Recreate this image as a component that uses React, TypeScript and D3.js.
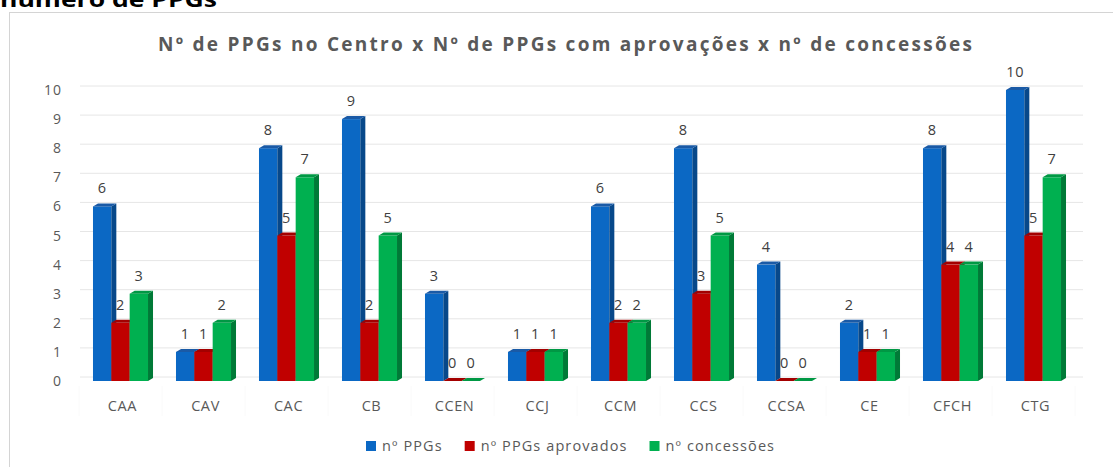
import React, { useEffect, useRef } from 'react';
import * as d3 from 'd3';

const categories = ['CAA', 'CAV', 'CAC', 'CB', 'CCEN', 'CCJ', 'CCM', 'CCS', 'CCSA', 'CE', 'CFCH', 'CTG'];
const ppgs = [6, 1, 8, 9, 3, 1, 6, 8, 4, 2, 8, 10];
const aprovados = [2, 1, 5, 2, 0, 1, 2, 3, 0, 1, 4, 5];
const concessoes = [3, 2, 7, 5, 0, 1, 2, 5, 0, 1, 4, 7];
const seriesNames = ['nº PPGs', 'nº PPGs aprovados', 'nº concessões'];
const yTicks = [0, 1, 2, 3, 4, 5, 6, 7, 8, 9, 10];

const colors = [
  { front: '#0b68c4', side: '#07488a', top: '#1a5aa6' },
  { front: '#c00000', side: '#870000', top: '#a30000' },
  { front: '#00b050', side: '#007a37', top: '#009844' },
];

const FONT = '"Open Sans", "Noto Sans", sans-serif';

const App = () => {
  const ref = useRef<SVGSVGElement>(null);

  useEffect(() => {
    const svg = d3.select(ref.current);
    svg.selectAll('*').remove();
    const width = 1113;
    const height = 467;
    svg.attr('width', width).attr('height', height);

    svg.append('rect').attr('width', width).attr('height', height).attr('fill', '#fff');

    // heading above the chart, clipped by the top of the picture
    svg.append('text')
      .attr('x', 0).attr('y', 7)
      .attr('font-family', FONT).attr('font-weight', 700).attr('font-size', 22)
      .attr('textLength', 217).attr('lengthAdjust', 'spacingAndGlyphs')
      .attr('fill', '#000')
      .text('número de PPGs');

    // chart frame
    svg.append('rect')
      .attr('x', 9.5).attr('y', 12.5).attr('width', 1200).attr('height', 500)
      .attr('fill', '#fff').attr('stroke', '#d4d4d4');

    svg.append('text')
      .attr('x', 565).attr('y', 51)
      .attr('text-anchor', 'middle')
      .attr('font-family', FONT).attr('font-weight', 700).attr('font-size', 19)
      .attr('textLength', 814).attr('lengthAdjust', 'spacing')
      .attr('fill', '#595959')
      .text('Nº de PPGs no Centro x Nº de PPGs com aprovações x nº de concessões');

    const values = [ppgs, aprovados, concessoes];
    const dx = 5;
    const dy = 3;

    const x0 = d3.scaleBand().domain(categories).range([79, 1075]).paddingInner(0.337).paddingOuter(0.1685);
    const x1 = d3.scaleBand().domain(['0', '1', '2']).range([0, x0.bandwidth()]);
    const y = d3.scaleLinear().domain([0, 10]).range([381, 90]);

    // gridlines on the back wall
    svg.append('g').selectAll('line')
      .data(yTicks)
      .enter().append('line')
      .attr('x1', 80).attr('x2', 1083)
      .attr('y1', d => y(d) - 4).attr('y2', d => y(d) - 4)
      .attr('stroke', '#e6e6e6').attr('stroke-width', 1);

    svg.append('g').selectAll('text')
      .data(yTicks)
      .enter().append('text')
      .attr('x', 62).attr('y', d => y(d) + 5)
      .attr('text-anchor', 'end')
      .attr('font-family', FONT).attr('font-size', 14).attr('letter-spacing', 1)
      .attr('fill', '#595959')
      .text(d => d);

    // faint separators under the axis
    const seps = categories.map(c => (x0(c) as number) - (x0.step() - x0.bandwidth()) / 2).concat([1075]);
    svg.append('g').selectAll('line')
      .data(seps)
      .enter().append('line')
      .attr('x1', d => d).attr('x2', d => d)
      .attr('y1', 386).attr('y2', 416)
      .attr('stroke', '#fafafa');

    svg.append('g').selectAll('text')
      .data(categories)
      .enter().append('text')
      .attr('x', d => (x0(d) as number) + x0.bandwidth() / 2 + 2)
      .attr('y', 411)
      .attr('text-anchor', 'middle')
      .attr('font-family', FONT).attr('font-size', 14.5).attr('letter-spacing', 0.6)
      .attr('fill', '#595959')
      .text(d => d);

    // 3D bars
    const bars = svg.append('g');
    const w = x1.bandwidth();
    categories.forEach((c, i) => {
      values.forEach((vals, s) => {
        const bx = (x0(c) as number) + (x1(String(s)) as number);
        const by = y(vals[i]);
        const b0 = y(0);
        const col = colors[s];
        bars.append('rect')
          .attr('x', bx).attr('y', by).attr('width', w).attr('height', b0 - by)
          .attr('fill', col.front);
        bars.append('path')
          .attr('d', `M${bx + w},${by}L${bx + w + dx},${by - dy}L${bx + w + dx},${b0 - dy}L${bx + w},${b0}Z`)
          .attr('fill', col.side);
        bars.append('path')
          .attr('d', `M${bx},${by}L${bx + dx},${by - dy}L${bx + w + dx},${by - dy}L${bx + w},${by}Z`)
          .attr('fill', col.top);
      });
    });

    // value labels
    const labels = svg.append('g');
    categories.forEach((c, i) => {
      values.forEach((vals, s) => {
        const bx = (x0(c) as number) + (x1(String(s)) as number);
        labels.append('text')
          .attr('x', bx + w / 2)
          .attr('y', y(vals[i]) - 13)
          .attr('text-anchor', 'middle')
          .attr('font-family', FONT).attr('font-size', 14.5).attr('letter-spacing', 0.5)
          .attr('fill', '#404040')
          .text(vals[i]);
      });
    });

    // legend
    const legend = svg.append('g');
    let lx = 366;
    seriesNames.forEach((name, s) => {
      legend.append('rect')
        .attr('x', lx).attr('y', 441).attr('width', 10).attr('height', 10)
        .attr('fill', colors[s].front);
      const t = legend.append('text')
        .attr('x', lx + 16).attr('y', 451)
        .attr('font-family', FONT).attr('font-size', 14.5).attr('letter-spacing', 1.1)
        .attr('fill', '#595959')
        .text(name);
      const tw = (t.node() as SVGTextElement).getComputedTextLength();
      lx += 16 + tw + 22;
    });
  }, []);

  return <svg ref={ref} style={{ position: 'absolute', left: 0, top: 0, display: 'block' }}></svg>;
};

export default App;
